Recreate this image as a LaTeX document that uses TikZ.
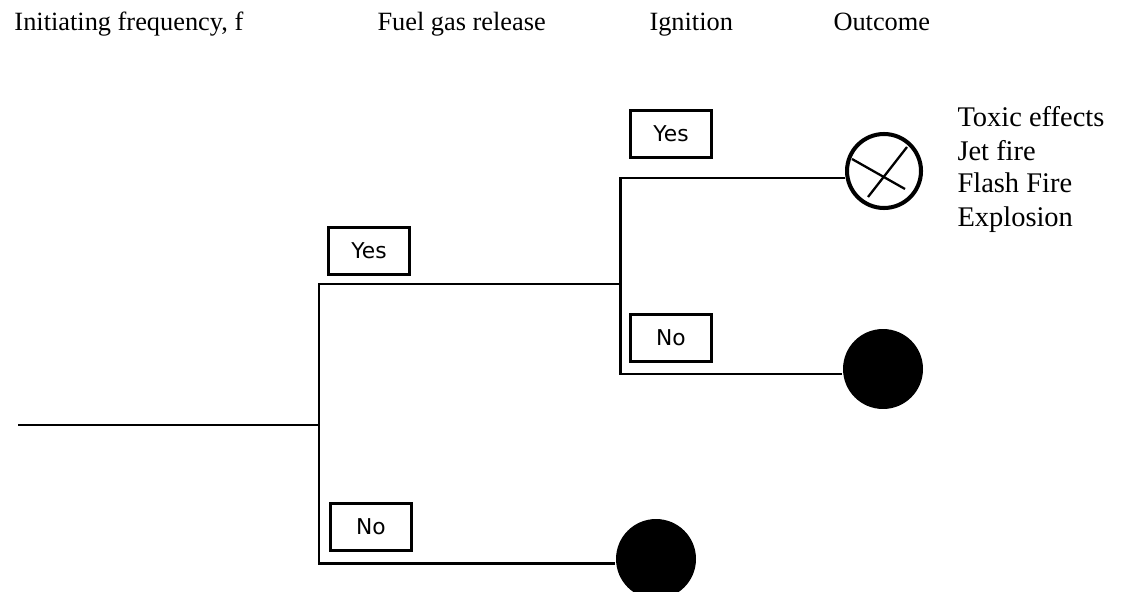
\documentclass[tikz,border=0pt]{standalone}
\usepackage{fontspec}
\setmainfont{Liberation Serif}
\newfontfamily\boxfont{DejaVu Sans}
\usepackage{tikz}
\usetikzlibrary{positioning}

\begin{document}
\begin{tikzpicture}[x=0.02cm, y=-0.02cm, line width=1.7pt,
    header/.style={anchor=base west, inner sep=0pt, font=\fontsize{15}{18}\selectfont},
    outcome/.style={anchor=base west, inner sep=0pt, font=\fontsize{16.2}{19}\selectfont},
    answer/.style={draw, line width=1.6pt, minimum width=1.63cm, minimum height=0.93cm, inner sep=0pt, font=\boxfont\fontsize{12.4}{14}\selectfont},
    endpoint/.style={circle, fill=black, minimum size=1.6cm, inner sep=0pt}]
  \useasboundingbox (0,0) rectangle (1124,591);

  % column headings
  \node[header] (hfreq) at (13,31) {Initiating frequency, f};
  \node[header] (hgas)  at (376,31) {Fuel gas release};
  \node[header] (hign)  at (648,31) {Ignition};
  \node[header] (hout)  at (832,31) {Outcome};

  % branch points
  \coordinate (root)  at (18,425);
  \coordinate (fork1) at (319,425);
  \coordinate (yes1)  at (319,284);
  \coordinate (no1)   at (319,563);
  \coordinate (fork2) at (620,284);
  \coordinate (yes2)  at (620,178);
  \coordinate (no2)   at (620,374);

  % end states
  \node[circle, draw, line width=2.3pt, minimum size=1.48cm, inner sep=0pt] (c1) at (884,171) {};
  \node[endpoint] (c2) at (883,369) {};
  \node[endpoint] (c3) at (656,559) {};
  \draw[line width=1.3pt] ([shift={(-32,-12)}]c1.center) -- ([shift={(21,18)}]c1.center);
  \draw[line width=1.3pt] ([shift={(-16,26)}]c1.center) -- ([shift={(23,-24)}]c1.center);

  % answers
  \node[answer] (ayes1) at (369,251) {Yes};
  \node[answer] (ano1)  at (371,527) {No};
  \node[answer] (ayes2) at (671,134) {Yes};
  \node[answer] (ano2)  at (671,338) {No};

  % tree
  \draw (root) -- (fork1);
  \draw (fork2) -- (yes1) -- (no1) -- (no1 -| c3.west);
  \draw (yes2 -| c1.west) -- (yes2) -- (no2) -- (no2 -| c2.west);

  % outcomes of ignition
  \foreach \txt [count=\i] in {Toxic effects, Jet fire, Flash Fire, Explosion}
    \node[outcome] (out\i) at (956, 127+33*\i-33) {\txt};
\end{tikzpicture}
\end{document}
